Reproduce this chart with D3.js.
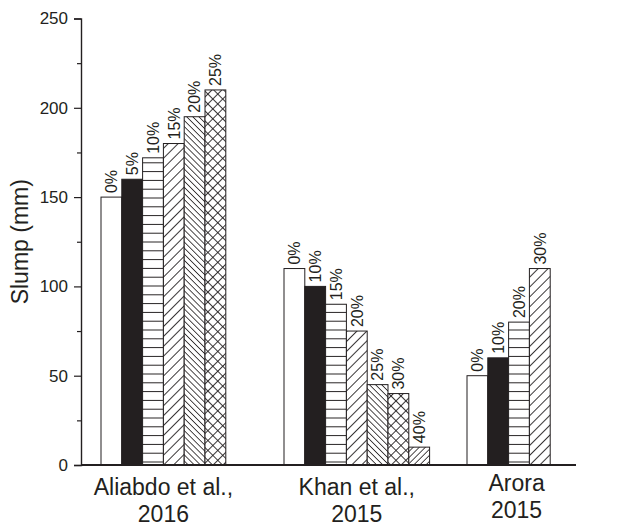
<!DOCTYPE html>
<html>
<head>
<meta charset="utf-8">
<script src="https://cdn.jsdelivr.net/npm/d3@7"></script>
<style>
  body { margin: 0; background: #fff; }
  text { font-family: "Liberation Sans", Arial, Helvetica, sans-serif; fill: #231f20; }
</style>
</head>
<body>
<svg id="chart" width="627" height="526"></svg>
<script>
// Slump of mixes by study and replacement level
const categories = ["Aliabdo et al., 2016", "Khan et al., 2015", "Arora 2015"];
const categoryLines = [["Aliabdo et al.,", "2016"], ["Khan et al.,", "2015"], ["Arora", "2015"]];

const aliabdoLevels = ["0%", "5%", "10%", "15%", "20%", "25%"];
const aliabdoSlump  = [150, 160, 172, 180, 195, 210];

const khanLevels = ["0%", "10%", "15%", "20%", "25%", "30%", "40%"];
const khanSlump  = [110, 100, 90, 75, 45, 40, 10];

const aroraLevels = ["0%", "10%", "20%", "30%"];
const aroraSlump  = [50, 60, 80, 110];

const yTicks = [0, 50, 100, 150, 200, 250];
const yMinorTicks = [25, 75, 125, 175, 225];
const yTitle = "Slump (mm)";

const groups = [
  { cat: categories[0], lines: categoryLines[0], levels: aliabdoLevels, values: aliabdoSlump },
  { cat: categories[1], lines: categoryLines[1], levels: khanLevels, values: khanSlump },
  { cat: categories[2], lines: categoryLines[2], levels: aroraLevels, values: aroraSlump }
];

const svg = d3.select("#chart");
const ink = "#231f20";

// layout
const axisX = 81, baseY = 465, topY = 18.5, axisRight = 576;
const barW = 20.8;
const labelShift = { "Arora 2015": [8, -4] };

const y = d3.scaleLinear().domain([0, 250]).range([baseY, topY]);
const x = d3.scaleBand().domain(categories).range([101, 101 + 183 * categories.length])
  .paddingInner(0).paddingOuter(0);

// hatch patterns, one per position within a group
const defs = svg.append("defs");
function linePattern(id, spacing, angle, width, cross) {
  const p = defs.append("pattern").attr("id", id)
    .attr("patternUnits", "userSpaceOnUse")
    .attr("width", spacing).attr("height", spacing)
    .attr("patternTransform", `rotate(${angle})`);
  p.append("rect").attr("width", spacing).attr("height", spacing).attr("fill", "#fff");
  p.append("line").attr("x1", spacing / 2).attr("x2", spacing / 2)
    .attr("y1", 0).attr("y2", spacing).attr("stroke", ink).attr("stroke-width", width);
  if (cross) {
    p.append("line").attr("y1", spacing / 2).attr("y2", spacing / 2)
      .attr("x1", 0).attr("x2", spacing).attr("stroke", ink).attr("stroke-width", width);
  }
}
linePattern("hatch-h", 8.8, 90, 1, false);
linePattern("hatch-fwd", 7, 45, 0.9, false);
linePattern("hatch-back", 4.3, -45, 0.8, false);
linePattern("hatch-cross", 7, 45, 0.9, true);
linePattern("hatch-fwd-dense", 4.3, 45, 0.8, false);

const fills = ["#fff", ink, "url(#hatch-h)", "url(#hatch-fwd)", "url(#hatch-back)",
  "url(#hatch-cross)", "url(#hatch-fwd-dense)"];

// bars
groups.forEach(g => {
  const gx = x(g.cat);
  const bars = g.values.map((v, j) => ({ v, j, level: g.levels[j] }));
  svg.append("g").selectAll("rect").data(bars).join("rect")
    .attr("x", d => gx + d.j * barW)
    .attr("y", d => y(d.v))
    .attr("width", barW)
    .attr("height", d => y(0) - y(d.v))
    .attr("fill", d => fills[d.j])
    .attr("stroke", ink)
    .attr("stroke-width", 1);

  svg.append("g").selectAll("text").data(bars).join("text")
    .attr("transform", d => `translate(${gx + d.j * barW + barW / 2},${y(d.v) - 4}) rotate(-90)`)
    .attr("dy", "0.36em")
    .attr("font-size", 16)
    .text(d => d.level);

  // category labels
  const shift = labelShift[g.cat] || [0, 0];
  const cx = gx + g.values.length * barW / 2 + shift[0];
  const t = svg.append("text")
    .attr("text-anchor", "middle")
    .attr("font-size", 23);
  g.lines.forEach((line, i) => {
    t.append("tspan").attr("x", cx).attr("y", 495 + shift[1] + i * 27).text(line);
  });
});

// y axis
const yAxis = d3.axisLeft(y).tickValues(yTicks).tickSize(7).tickPadding(6);
const ya = svg.append("g").attr("transform", `translate(${axisX},0)`).call(yAxis);
ya.attr("font-family", null);
ya.select(".domain").attr("stroke", ink).attr("stroke-width", 1.4);
ya.selectAll(".tick line").attr("stroke", ink).attr("stroke-width", 1.2);
ya.selectAll(".tick text").attr("font-size", 17).attr("fill", ink);

const yMinor = d3.axisLeft(y).tickValues(yMinorTicks).tickSize(4).tickFormat("");
const ym = svg.append("g").attr("transform", `translate(${axisX},0)`).call(yMinor);
ym.select(".domain").remove();
ym.selectAll(".tick line").attr("stroke", ink).attr("stroke-width", 1.2);

// x baseline
svg.append("line")
  .attr("x1", axisX).attr("x2", axisRight)
  .attr("y1", baseY).attr("y2", baseY)
  .attr("stroke", ink).attr("stroke-width", 2);

// y title
svg.append("text")
  .attr("transform", `translate(28,${(baseY + topY) / 2}) rotate(-90)`)
  .attr("text-anchor", "middle")
  .attr("font-size", 23)
  .text(yTitle);
</script>
</body>
</html>
